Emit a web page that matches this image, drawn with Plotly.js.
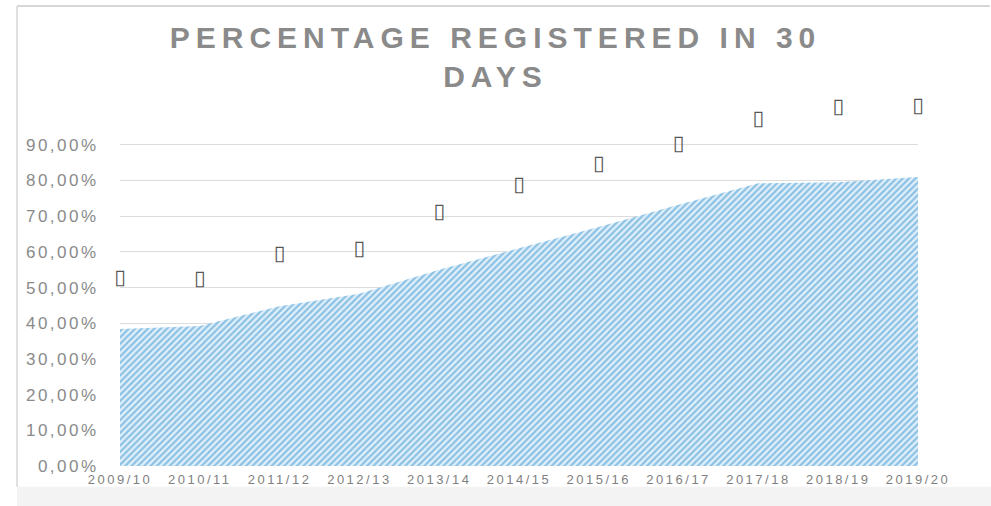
<!DOCTYPE html>
<html>
<head>
<meta charset="utf-8">
<script src="https://cdn.plot.ly/plotly-3.0.1.min.js"></script>
<style>
  html, body { margin: 0; padding: 0; background: #ffffff; }
  #chart { width: 991px; height: 506px; }
  #chart .gtitle { letter-spacing: 6px; }
  #chart .ytick text { letter-spacing: 2.5px; }
  #chart .xtick text { letter-spacing: 2.5px; }
</style>
</head>
<body>
<div id="chart"></div>
<script>
// Categories (academic years)
const years = ["2009/10","2010/11","2011/12","2012/13","2013/14","2014/15","2015/16","2016/17","2017/18","2018/19","2019/20"];
// Percentage registered in 30 days (fraction)
const registered = [0.384, 0.392, 0.448, 0.483, 0.550, 0.610, 0.670, 0.732, 0.792, 0.795, 0.810];
// Height at which the (unrendered) data labels sit
const labelHeight = [0.524, 0.521, 0.593, 0.605, 0.710, 0.786, 0.843, 0.900, 0.970, 1.003, 1.007];
const labelGlyph = years.map(() => "\u25AF");
// Y axis ticks
const yTicks = [0, 0.1, 0.2, 0.3, 0.4, 0.5, 0.6, 0.7, 0.8, 0.9];

const traces = [
  {
    type: "scatter",
    x: years,
    y: registered,
    mode: "none",
    fill: "tozeroy",
    fillcolor: "#d6ebf8",
    fillpattern: { shape: "/", bgcolor: "#e2f1fb", fgcolor: "#8cc1e4", size: 4.5, solidity: 0.5 },
    line: { width: 0, shape: "linear" },
    hoverinfo: "skip",
    showlegend: false
  },
  {
    type: "scatter",
    x: years,
    y: labelHeight,
    mode: "text",
    text: labelGlyph,
    textposition: "middle center",
    textfont: { family: "DejaVu Sans", size: 21, color: "#555555" },
    cliponaxis: false,
    hoverinfo: "skip",
    showlegend: false
  }
];

const layout = {
  width: 991,
  height: 506,
  margin: { l: 120, r: 73, t: 102, b: 40, pad: 0 },
  paper_bgcolor: "#ffffff",
  plot_bgcolor: "#ffffff",
  separators: ",.",
  showlegend: false,
  title: {
    text: "PERCENTAGE REGISTERED IN 30<br>DAYS",
    x: 0.5,
    xref: "container",
    xanchor: "center",
    y: 0.905,
    yref: "container",
    yanchor: "top",
    font: { family: "Liberation Sans", size: 30, color: "#8a8a8a", weight: "bold", lineposition: "none" }
  },
  xaxis: {
    type: "category",
    range: [0, 10],
    showgrid: false,
    zeroline: false,
    showline: false,
    ticks: "outside",
    ticklen: 1,
    tickcolor: "rgba(0,0,0,0)",
    tickfont: { family: "Liberation Sans", size: 13, color: "#7f7f7f" },
    fixedrange: true
  },
  yaxis: {
    range: [0, 1.02],
    tickvals: yTicks,
    tickformat: ".2%",
    showgrid: true,
    gridcolor: "#dcdcdc",
    gridwidth: 1,
    zeroline: false,
    showline: false,
    ticks: "outside",
    ticklen: 17,
    tickcolor: "rgba(0,0,0,0)",
    tickfont: { family: "Liberation Sans", size: 17, color: "#8a8a8a" },
    fixedrange: true
  },
  shapes: [
    { type: "line", xref: "paper", yref: "paper", x0: -0.129, x1: -0.129, y0: -0.057, y1: 1.264, line: { color: "#d6d6d6", width: 1.5 } },
    { type: "line", xref: "paper", yref: "paper", x0: -0.129, x1: 1.09, y0: 1.264, y1: 1.264, line: { color: "#d6d6d6", width: 2 } },
    { type: "rect", xref: "paper", yref: "paper", x0: -0.129, x1: 1.1, y0: -0.11, y1: -0.057, fillcolor: "#f3f3f3", line: { width: 0 }, layer: "below" }
  ]
};

Plotly.newPlot("chart", traces, layout, { displayModeBar: false, staticPlot: true });
</script>
</body>
</html>
